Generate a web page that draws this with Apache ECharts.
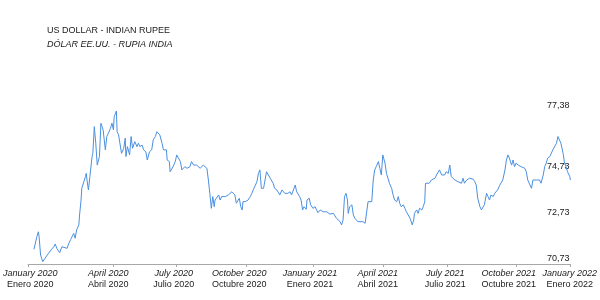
<!DOCTYPE html>
<html>
<head>
<meta charset="utf-8">
<script src="https://cdn.jsdelivr.net/npm/echarts@6/dist/echarts.min.js"></script>
<style>html,body{margin:0;padding:0;background:#fff;}#c{width:600px;height:300px;}</style>
</head>
<body>
<div id="c"></div>
<script>
// Days since 2020-01-01
const days = [
  1,5,7,8,10,13,14,16,21,25,
  28,30,32,36,39,41,46,48,51,55,
  57,59,62,63,65,66,68,71,72,74,
  75,77,80,81,83,85,87,90,92,95,
  98,100,102,105,107,109,110,113,114,116,
  118,120,123,125,126,128,131,133,135,138,
  141,143,145,148,150,153,155,158,161,163,
  166,168,170,172,175,177,181,182,185,186,
  188,190,193,195,197,200,202,204,206,209,
  213,215,218,220,222,227,231,233,236,238,
  240,242,244,246,247,249,252,254,256,258,
  261,263,265,267,270,272,274,276,277,280,
  282,284,285,288,290,292,295,297,299,301,
  304,306,308,310,313,315,317,319,322,324,
  326,328,331,333,335,338,340,342,344,346,
  349,351,353,356,358,360,362,364,366,368,
  371,372,375,377,380,383,385,387,390,392,
  394,396,399,401,403,405,408,410,412,414,
  417,419,421,423,425,427,428,430,433,435,
  437,439,441,444,446,448,451,453,455,457,
  460,462,464,466,469,471,473,475,478,480,
  484,487,489,491,494,496,498,500,503,505,
  507,509,512,514,515,517,518,521,523,525,
  528,530,532,533,535,538,541,543,546,548,
  550,552,555,557,559,561,564,566,568,570,
  573,575,577,579,582,584,586,589,591,593,
  595,598,600,602,604,607,609,611,613,616,
  618,620,622,625,627,629,631,634,636,638,
  641,643,645,647,650,652,654,656,659,661,
  663,665,668,670,672,674,677,679,681,684,
  686,688,690,693,695,697,699,702,704,706,
  708,711,713,715,717,720,722,724,726,729,
  730
];
const rates = [
  71.37,71.92,72.13,71.92,71.12,70.83,70.79,70.98,71.20,71.37,
  71.48,71.60,71.41,71.22,71.48,71.56,71.41,71.60,71.80,72.06,
  71.85,72.21,72.43,72.86,73.51,74.02,74.09,74.53,74.67,74.16,
  73.95,74.53,75.40,75.54,76.70,75.98,75.03,75.40,76.85,76.56,
  75.69,76.27,76.41,76.63,76.85,76.56,77.13,77.38,76.48,76.34,
  76.41,75.54,75.76,76.20,75.40,75.83,75.47,76.27,75.76,76.05,
  75.83,75.98,75.83,75.90,75.69,75.61,75.25,75.61,75.69,76.12,
  76.27,76.48,76.41,76.34,75.98,75.69,75.69,75.25,75.18,74.74,
  74.67,74.96,75.18,75.47,75.40,75.18,74.82,74.82,74.96,74.89,
  74.96,75.18,75.03,74.96,75.03,74.89,75.03,75.11,74.89,74.38,
  73.80,73.15,73.66,73.22,73.51,73.59,73.73,73.51,73.66,73.59,
  73.66,73.59,73.73,73.80,73.87,73.80,73.73,73.37,73.44,73.59,
  73.22,73.08,73.44,73.44,73.51,73.51,73.66,73.80,73.95,74.02,
  74.31,74.67,74.82,74.02,74.02,74.38,74.74,74.67,74.46,74.38,
  74.24,74.02,73.95,73.87,73.73,73.95,73.87,73.80,73.87,73.80,
  73.87,73.73,73.80,74.16,73.87,73.95,73.66,73.51,73.08,73.22,
  73.11,73.51,73.59,73.30,73.15,73.22,73.08,72.96,73.08,73.00,
  73.00,72.96,73.00,72.93,72.90,72.86,72.93,72.82,72.72,72.64,
  72.57,72.43,72.64,73.66,73.80,73.51,72.93,73.22,73.30,72.86,
  72.72,72.67,72.57,72.57,72.50,72.57,72.50,72.46,73.44,73.37,
  73.44,74.38,74.82,74.96,75.18,74.89,74.60,75.47,75.11,74.67,
  74.24,74.02,73.73,73.51,73.44,73.66,73.37,73.22,73.30,73.15,
  73.00,72.93,72.72,72.64,72.43,72.64,72.93,73.08,72.93,73.15,
  73.08,73.22,73.44,74.24,74.31,74.24,74.38,74.31,74.46,74.60,
  74.53,74.82,74.60,74.67,74.60,74.74,74.67,75.03,74.53,74.46,
  74.38,74.46,74.31,74.38,74.24,74.46,74.24,74.38,74.31,74.46,
  74.38,74.41,74.31,74.16,73.59,73.22,73.08,73.08,73.30,73.80,
  73.66,73.51,73.73,73.66,73.80,73.87,73.95,74.16,74.24,74.38,
  74.82,75.25,75.47,75.33,75.03,75.25,74.96,75.11,75.03,75.11,
  74.96,75.03,74.89,74.74,74.38,74.46,74.02,74.38,74.46,74.38,
  74.31,74.38,74.24,74.60,74.96,75.11,75.33,75.40,75.47,75.69,
  75.76,75.98,76.27,76.20,75.98,75.54,75.11,74.96,74.74,74.53,
  74.38
];
const tickDays = [-7, 109, 194, 290, 380, 475, 563, 657, 730];
const labelDays = [-4, 102, 191, 280, 376, 468, 560, 646, 729];
const labelsEn = ['January 2020','April 2020','July 2020','October 2020','January 2021','April 2021','July 2021','October 2021','January 2022'];
const labelsEs = ['Enero 2020','Abril 2020','Julio 2020','Octubre 2020','Enero 2021','Abril 2021','Julio 2021','Octubre 2021','Enero 2022'];
const yTicks = [70.73, 72.73, 74.73, 77.38];
const titleEn = 'US DOLLAR - INDIAN RUPEE';
const titleEs = 'DÓLAR EE.UU. - RUPIA INDIA';

const FONT = '"Liberation Sans", Arial, sans-serif';
const chart = echarts.init(document.getElementById('c'), null, {renderer: 'canvas'});
chart.setOption({
  animation: false,
  backgroundColor: '#ffffff',
  title: {
    left: 42, top: 20, itemGap: 3,
    text: titleEn,
    subtext: titleEs,
    textStyle: {fontSize: 9, fontWeight: 'normal', color: '#1a1a1a', fontFamily: FONT, lineHeight: 11},
    subtextStyle: {fontSize: 9, fontStyle: 'italic', color: '#1a1a1a', fontFamily: FONT, lineHeight: 11}
  },
  grid: {left: 28, right: 29, top: 111, bottom: 36},
  xAxis: {
    type: 'value', min: -7, max: 730,
    axisLine: {show: true, lineStyle: {color: '#a8a8a8', width: 1}},
    axisTick: {show: true, length: 3, lineStyle: {color: '#a8a8a8'}, customValues: tickDays},
    splitLine: {show: false},
    axisLabel: {
      customValues: labelDays,
      margin: 4,
      formatter: function (v) {
        let i = 0, best = 1e9;
        labelDays.forEach((d, k) => { const e = Math.abs(d - v); if (e < best) { best = e; i = k; } });
        return '{en|' + labelsEn[i] + '}\n{es|' + labelsEs[i] + '}';
      },
      rich: {
        en: {fontSize: 9, fontStyle: 'italic', color: '#1a1a1a', fontFamily: FONT, lineHeight: 11, align: 'center'},
        es: {fontSize: 9, color: '#1a1a1a', fontFamily: FONT, lineHeight: 11, align: 'center'}
      }
    }
  },
  yAxis: {
    type: 'value', position: 'right', min: 70.73, max: 77.38,
    axisLine: {show: false}, axisTick: {show: false}, splitLine: {show: false},
    axisLabel: {
      inside: true, margin: 1, customValues: yTicks,
      verticalAlign: 'bottom', padding: [0, 0, 1, 0],
      fontSize: 9, color: '#1a1a1a', fontFamily: FONT,
      formatter: v => v.toFixed(2).replace('.', ',')
    }
  },
  series: [{
    type: 'line',
    data: days.map((d, i) => [d, rates[i]]),
    showSymbol: false, symbol: 'none',
    lineStyle: {color: '#4b8fe0', width: 1},
    z: 1
  }]
});
</script>
</body>
</html>
